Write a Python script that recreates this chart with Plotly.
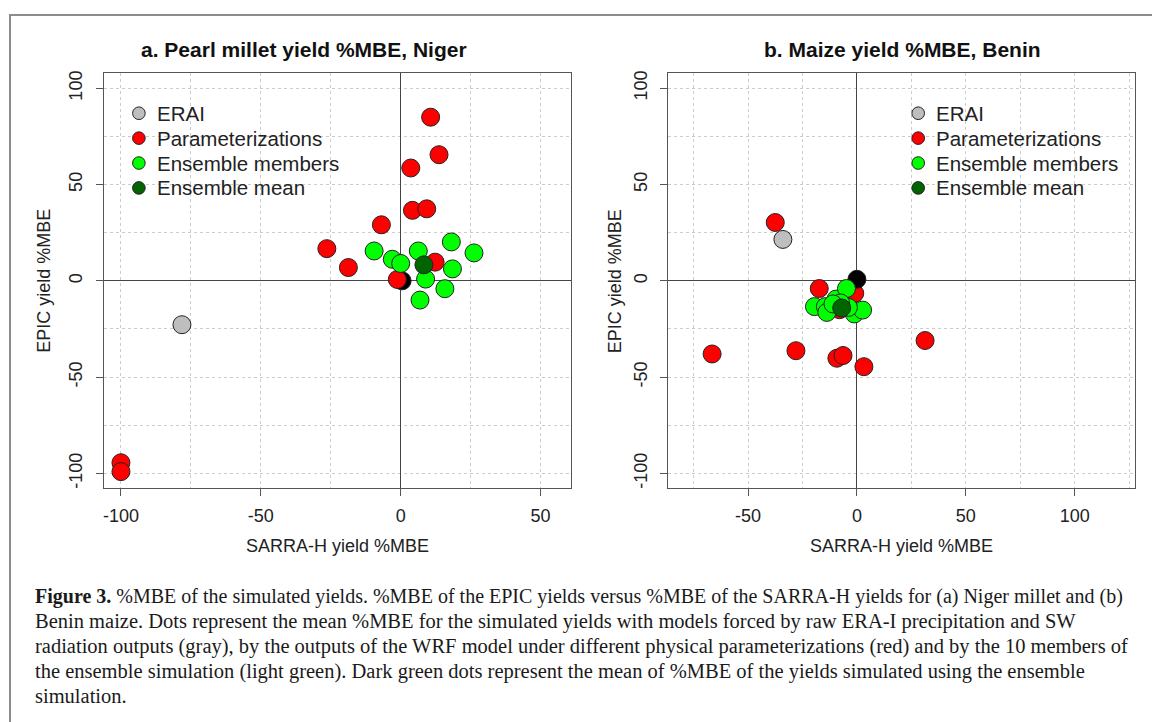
import plotly.graph_objects as go

W, H = 1152, 722

# ---------------- data ----------------
# Panel a: Pearl millet, Niger  (x = SARRA-H %MBE, y = EPIC %MBE)
a_erai_x = [-78.2]
a_erai_y = [-22.8]
a_obs_x = [0.5]
a_obs_y = [0.0]
a_par_x = [10.7, 13.7, 3.6, 4.2, 9.3, -6.9, -26.4, -18.7, 12.3, -1.2, -100.0, -100.0]
a_par_y = [85.0, 65.5, 58.6, 36.6, 37.4, 29.1, 16.7, 6.9, 9.7, 0.7, -94.5, -99.1]
a_ens_x = [-9.5, -3.0, 0.0, 6.3, 18.1, 26.2, 18.5, 8.9, 15.8, 6.9]
a_ens_y = [15.5, 11.2, 9.0, 15.5, 20.2, 14.5, 6.2, 0.9, -4.1, -10.0]
a_mean_x = [8.3]
a_mean_y = [8.3]

# Panel b: Maize, Benin
b_erai_x = [-34.0]
b_erai_y = [21.5]
b_obs_x = [0.0]
b_obs_y = [0.8]
b_par_x = [-37.5, -66.5, -28.0, -9.2, -6.4, 3.2, 31.3, -17.3, -1.0, -10.5, -8.0]
b_par_y = [30.3, -38.0, -36.3, -40.2, -38.8, -44.6, -31.0, -4.0, -6.5, -14.0, -15.0]
b_ens_x = [-19.5, -14.5, -13.8, -9.6, -4.8, -1.2, 2.6, -3.9, -7.5, -11.0]
b_ens_y = [-13.4, -13.4, -16.4, -9.5, -4.0, -17.2, -15.2, -13.8, -11.5, -12.0]
b_mean_x = [-7.0]
b_mean_y = [-14.1]

names = ["ERAI", "Parameterizations", "Ensemble members", "Ensemble mean"]
a_ticks_x = [-100, -50, 0, 50]
b_ticks_x = [-50, 0, 50, 100]
ticks_y = [-100, -50, 0, 50, 100]

titles = ["a. Pearl millet yield %MBE, Niger", "b. Maize yield %MBE, Benin"]
xlab = "SARRA-H yield %MBE"
ylab = "EPIC yield %MBE"

caption = [
    "<b>Figure 3.</b> %MBE of the simulated yields. %MBE of the EPIC yields versus %MBE of the SARRA-H yields for (a) Niger millet and (b)",
    "Benin maize. Dots represent the mean %MBE for the simulated yields with models forced by raw ERA-I precipitation and SW",
    "radiation outputs (gray), by the outputs of the WRF model under different physical parameterizations (red) and by the 10 members of",
    "the ensemble simulation (light green). Dark green dots represent the mean of %MBE of the yields simulated using the ensemble",
    "simulation.",
]

# ---------------- styling ----------------
C_GRAY = "#BEBEBE"
C_RED = "#FF0000"
C_GREEN = "#00FF00"
C_DKGREEN = "#006400"
colors = [C_GRAY, C_RED, C_GREEN, C_DKGREEN]
MS = 18
LINE = dict(color="#222222", width=1)

fig = go.Figure()


def add(x, y, color, name, xa, ya):
    fig.add_trace(go.Scatter(
        x=x, y=y, mode="markers", name=name,
        marker=dict(size=MS, color=color, line=LINE),
        xaxis=xa, yaxis=ya, showlegend=False,
        hoverinfo="x+y"))


# panel a (black point under the red ones)
add(a_erai_x, a_erai_y, C_GRAY, names[0], "x", "y")
add(a_obs_x, a_obs_y, "#000000", "obs", "x", "y")
add(a_par_x, a_par_y, C_RED, names[1], "x", "y")
add(a_ens_x, a_ens_y, C_GREEN, names[2], "x", "y")
add(a_mean_x, a_mean_y, C_DKGREEN, names[3], "x", "y")

# panel b (black point above red ones)
add(b_erai_x, b_erai_y, C_GRAY, names[0], "x2", "y2")
add(b_par_x, b_par_y, C_RED, names[1], "x2", "y2")
add(b_obs_x, b_obs_y, "#000000", "obs", "x2", "y2")
add(b_ens_x, b_ens_y, C_GREEN, names[2], "x2", "y2")
add(b_mean_x, b_mean_y, C_DKGREEN, names[3], "x2", "y2")

FONT = "Liberation Sans, Arial, sans-serif"
TICKFONT = dict(family=FONT, size=18, color="#222222")


def px_x(p):
    return p / W


def px_y(p):
    return 1 - p / H


common = dict(
    showline=True, mirror=True, linecolor="#555555", linewidth=1,
    ticks="outside", ticklen=7, tickcolor="#555555", tickwidth=1,
    showgrid=True, gridcolor="#cccccc", griddash="dot", gridwidth=1,
    zeroline=True, zerolinecolor="#444444", zerolinewidth=1,
    tickfont=TICKFONT,
    minor=dict(dtick=25, showgrid=True, gridcolor="#cccccc", griddash="dot", gridwidth=1),
)

yd = [px_y(488), px_y(71)]
fig.update_layout(
    width=W, height=H,
    margin=dict(l=0, r=0, t=0, b=0),
    paper_bgcolor="white", plot_bgcolor="white",
    font=dict(family=FONT, color="#222222"),
    showlegend=False,
    xaxis=dict(domain=[px_x(102.7), px_x(570)], range=[-106.2, 60.7],
               tickvals=a_ticks_x, ticktext=[str(v) for v in a_ticks_x],
               anchor="y", ticklabelstandoff=4, **common),
    yaxis=dict(domain=yd, range=[-107.6, 108.1], tickvals=ticks_y,
               ticktext=[str(v) for v in ticks_y], anchor="x",
               tickangle=-90, ticklabelstandoff=6, **common),
    xaxis2=dict(domain=[px_x(667.7), px_x(1135)], range=[-86.7, 127.7],
                tickvals=b_ticks_x, ticktext=[str(v) for v in b_ticks_x],
                anchor="y2", ticklabelstandoff=4, **common),
    yaxis2=dict(domain=yd, range=[-107.6, 108.1], tickvals=ticks_y,
                ticktext=[str(v) for v in ticks_y], anchor="x2",
                tickangle=-90, ticklabelstandoff=6, **common),
)

ann = []
shapes = []
# panel titles
for t, cx in zip(titles, [303, 902]):
    ann.append(dict(text="<b>" + t + "</b>", x=px_x(cx), y=px_y(48), xref="paper", yref="paper",
                    showarrow=False, xanchor="center", yanchor="middle",
                    font=dict(family=FONT, size=21, color="#111111")))
# axis titles
for cx in [(102.7 + 570) / 2, (667.7 + 1135) / 2]:
    ann.append(dict(text=xlab, x=px_x(cx), y=px_y(546), xref="paper", yref="paper",
                    showarrow=False, xanchor="center", yanchor="middle",
                    font=dict(family=FONT, size=18, color="#222222")))
for cx in [43, 614]:
    ann.append(dict(text=ylab, x=px_x(cx), y=px_y(280), xref="paper", yref="paper",
                    showarrow=False, xanchor="center", yanchor="middle", textangle=-90,
                    font=dict(family=FONT, size=18, color="#222222")))

# legends (one per panel, R-style key inside the plot)
for mx in [138, 918]:
    for i, (nm, col) in enumerate(zip(names, colors)):
        cy = 111.7 + 25 * i
        shapes.append(dict(type="circle", xref="paper", yref="paper",
                           xsizemode="pixel", ysizemode="pixel",
                           xanchor=px_x(mx), yanchor=px_y(cy),
                           x0=-6.3, x1=6.3, y0=-6.3, y1=6.3,
                           fillcolor=col, line=dict(color="#222222", width=1)))
        ann.append(dict(text=nm, x=px_x(mx + 16), y=px_y(cy), xref="paper", yref="paper",
                        showarrow=False, xanchor="left", yanchor="middle",
                        font=dict(family=FONT, size=20.5, color="#222222")))

# caption
for i, line in enumerate(caption):
    ann.append(dict(text=line, x=px_x(32), y=px_y(597 + 25 * i), xref="paper", yref="paper",
                    showarrow=False, xanchor="left", yanchor="middle",
                    font=dict(family="Liberation Serif, DejaVu Serif, serif",
                              size=20 if i == 0 else 20.5, color="#1a1a1a")))

# outer frame of the figure
shapes.append(dict(type="rect", xref="paper", yref="paper",
                   x0=px_x(9), x1=1.05, y0=-0.05, y1=px_y(13),
                   line=dict(color="#8c8c8c", width=2), fillcolor="rgba(0,0,0,0)", layer="above"))

fig.update_layout(annotations=ann, shapes=shapes)

fig.write_html("out.html")
